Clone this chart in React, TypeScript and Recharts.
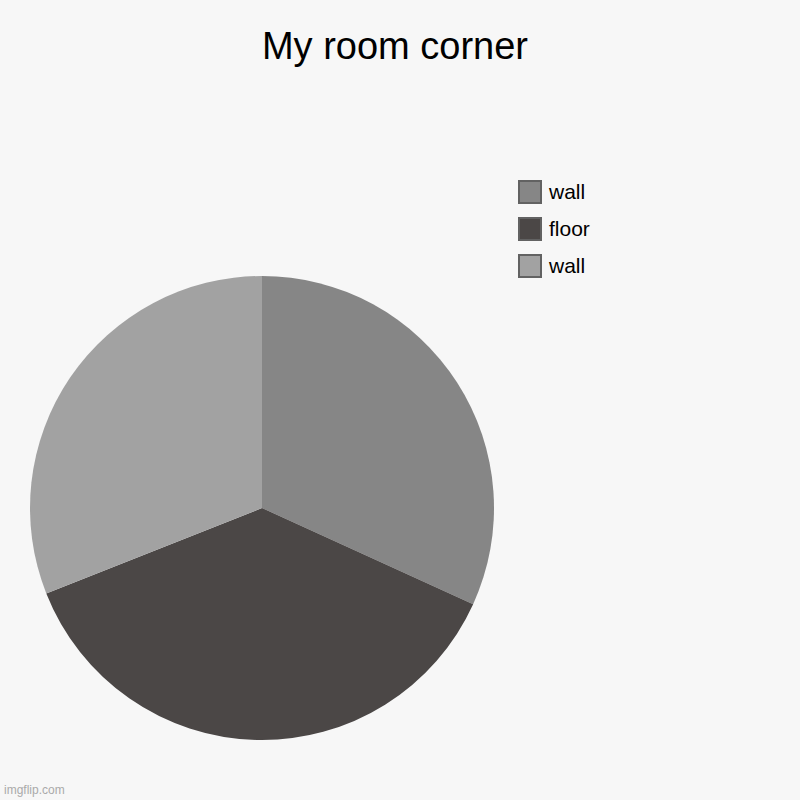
import { PieChart, Pie, Cell, Legend } from "recharts";

const labels = ["wall", "floor", "wall"];
const values = [31.8, 37.2, 31.0];
const colors = ["#868686", "#4b4746", "#a2a2a2"];

const data = labels.map((name, i) => ({ name, value: values[i], fill: colors[i] }));

const font = "'Liberation Sans', Arial, sans-serif";

// legend drawn straight from the data so the order matches the slices
function LegendBox() {
  return (
    <div style={{ fontFamily: font }}>
      {data.map((d, i) => (
        <div
          key={i}
          style={{ display: "flex", alignItems: "center", height: 24, marginBottom: 13 }}
        >
          <div
            style={{
              width: 20,
              height: 20,
              background: d.fill,
              border: "2px solid #626262",
            }}
          />
          <span style={{ marginLeft: 7, fontSize: 21, color: "#000" }}>{d.name}</span>
        </div>
      ))}
    </div>
  );
}

export default function App() {
  return (
    <div
      style={{
        position: "fixed",
        left: 0,
        top: 0,
        width: 800,
        height: 800,
        background: "#f7f7f7",
        fontFamily: font,
      }}
    >
      <div
        style={{
          position: "absolute",
          top: 25,
          left: 0,
          width: 790,
          textAlign: "center",
          fontSize: 38,
          color: "#000",
        }}
      >
        My room corner
      </div>
      <PieChart width={800} height={800} margin={{ top: 0, right: 0, bottom: 0, left: 0 }}>
        <Pie
          data={data}
          dataKey="value"
          nameKey="name"
          cx={262}
          cy={508}
          outerRadius={232}
          startAngle={90}
          endAngle={-270}
          stroke="none"
          isAnimationActive={false}
        >
          {data.map((d, i) => (
            <Cell key={i} fill={d.fill} />
          ))}
        </Pie>
        <Legend
          layout="vertical"
          content={<LegendBox />}
          wrapperStyle={{ left: 518, top: 180, width: 200 }}
        />
      </PieChart>
      <div
        style={{
          position: "absolute",
          left: 4,
          top: 783,
          fontSize: 12,
          color: "#aaa",
        }}
      >
        imgflip.com
      </div>
    </div>
  );
}
